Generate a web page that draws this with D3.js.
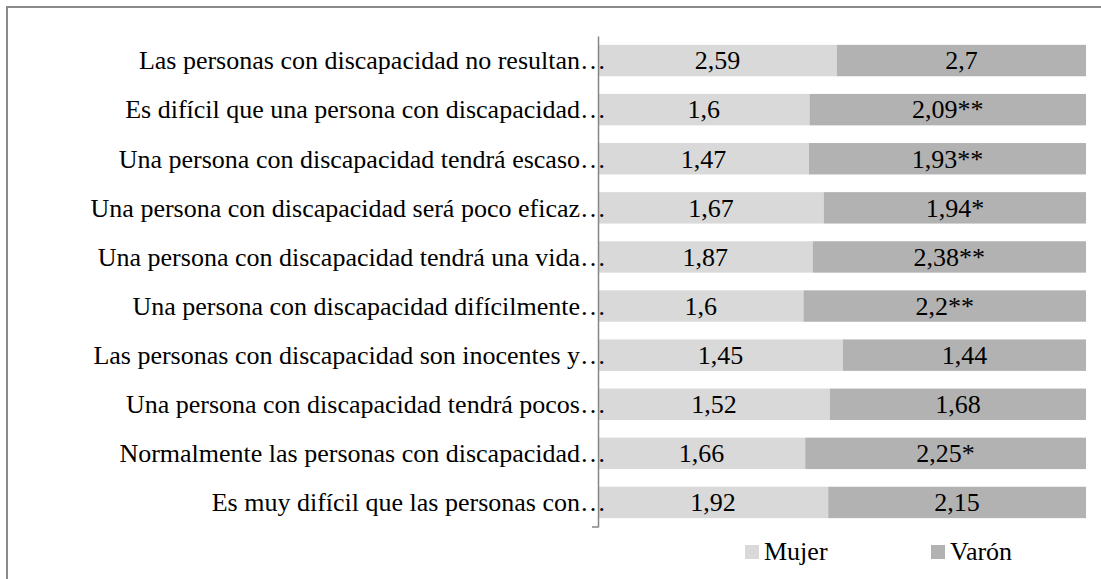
<!DOCTYPE html>
<html>
<head>
<meta charset="utf-8">
<script src="https://cdn.jsdelivr.net/npm/d3@7"></script>
<style>
	body { margin: 0; background: #fff; }
	svg { display: block; }
</style>
</head>
<body>
<svg id="chart" width="1101" height="579"></svg>
<script>
"use strict";

const labels = [
	"Las personas con discapacidad no resultan…",
	"Es difícil que una persona con discapacidad…",
	"Una persona con discapacidad tendrá escaso…",
	"Una persona con discapacidad será poco eficaz…",
	"Una persona con discapacidad tendrá una vida…",
	"Una persona con discapacidad difícilmente…",
	"Las personas con discapacidad son inocentes y…",
	"Una persona con discapacidad tendrá pocos…",
	"Normalmente las personas con discapacidad…",
	"Es muy difícil que las personas con…"
];
const mujer = [2.59, 1.6, 1.47, 1.67, 1.87, 1.6, 1.45, 1.52, 1.66, 1.92];
const varon = [2.7, 2.09, 1.93, 1.94, 2.38, 2.2, 1.44, 1.68, 2.25, 2.15];
const varonSig = ["", "**", "**", "*", "**", "**", "", "", "*", ""];
const seriesNames = ["Mujer", "Varón"];
const colors = ["#d9d9d9", "#b2b2b2"];

(() => {
	const svg = d3.select("#chart");
	const fmt = v => String(v).replace(".", ",");
	const FS = 26;
	const FONT = "'Liberation Serif'";

	// rows as 100% stacked shares
	let rows = labels.map((l, i) => {
		let tot = mujer[i] + varon[i];
		return {
			label: l,
			segs: [
				{ s: 0, x0: 0, x1: mujer[i] / tot, txt: fmt(mujer[i]) },
				{ s: 1, x0: mujer[i] / tot, x1: 1, txt: fmt(varon[i]) + varonSig[i] }
			]
		};
	});

	// outer frame
	svg.append("rect")
		.attr("x", 7).attr("y", 7)
		.attr("width", 1200).attr("height", 700)
		.attr("fill", "none")
		.attr("stroke", "#8a8a8a")
		.attr("stroke-width", 2);

	const x = d3.scaleLinear().domain([0, 1]).range([598, 1086]);
	const y = d3.scaleBand().domain(labels).range([36, 527])
		.paddingInner(0.36).paddingOuter(0.18);

	const g = svg.append("g");
	g.selectAll("g.row")
		.data(rows).enter()
		.append("g").attr("class", "row")
		.each(function (r) {
			let sel = d3.select(this);
			sel.selectAll("rect")
				.data(r.segs).enter()
				.append("rect")
				.attr("x", d => x(d.x0))
				.attr("width", d => x(d.x1) - x(d.x0))
				.attr("y", y(r.label))
				.attr("height", y.bandwidth())
				.attr("fill", d => colors[d.s]);
			sel.selectAll("text")
				.data(r.segs).enter()
				.append("text")
				.attr("x", d => (x(d.x0) + x(d.x1)) / 2)
				.attr("y", y(r.label) + y.bandwidth() / 2)
				.attr("dy", "0.34em")
				.attr("text-anchor", "middle")
				.style("font-family", FONT)
				.style("font-size", FS + "px")
				.attr("fill", "#000")
				.text(d => d.txt);
		});

	// category axis: line + labels (labels run a bit past the line like the original)
	const axis = d3.axisLeft(y).tickSize(0).tickSizeOuter(0).tickPadding(-8);
	const ag = svg.append("g")
		.attr("transform", `translate(${x(0)},0)`)
		.call(axis)
		.attr("font-family", null);
	ag.select(".domain").attr("stroke", "#868686").attr("stroke-width", 1.5);
	ag.selectAll(".tick text")
		.attr("dy", "0.34em")
		.style("font-family", FONT)
		.style("font-size", FS + "px")
		.attr("fill", "#000");
	// small outer tick at the bottom
	ag.append("line")
		.attr("x1", -6).attr("x2", 0)
		.attr("y1", y.range()[1]).attr("y2", y.range()[1])
		.attr("stroke", "#868686").attr("stroke-width", 1.5);

	// legend
	const legX = d3.scaleOrdinal().domain(seriesNames).range([745, 931]);
	const leg = svg.append("g").selectAll("g")
		.data(seriesNames).enter()
		.append("g")
		.attr("transform", d => `translate(${legX(d)},560)`);
	leg.append("rect")
		.attr("x", 0).attr("y", -15)
		.attr("width", 14).attr("height", 14)
		.attr("fill", (d, i) => colors[i]);
	leg.append("text")
		.attr("x", 19)
		.style("font-family", FONT)
		.style("font-size", FS + "px")
		.attr("fill", "#000")
		.text(d => d);
})();
</script>
</body>
</html>
